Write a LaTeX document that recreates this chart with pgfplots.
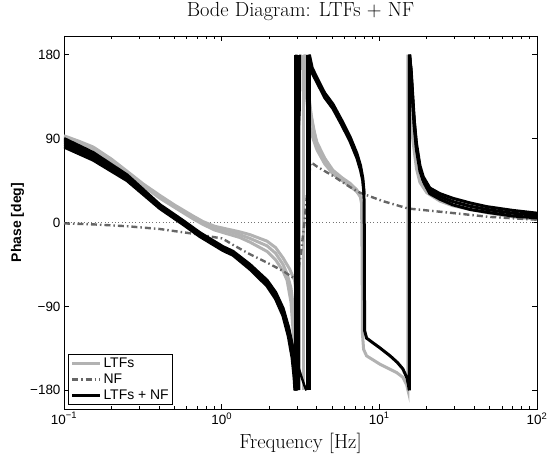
\documentclass[border=0pt]{standalone}
\usepackage{fontspec}
\setsansfont{Liberation Sans}
\usepackage{pgfplots}
\pgfplotsset{compat=1.18}
\definecolor{ltf}{gray}{0.70}
\definecolor{nfc}{gray}{0.40}
\definecolor{zl}{gray}{0.45}
\begin{document}
\begin{tikzpicture}
\useasboundingbox (-64bp,-49bp) rectangle (483bp,409bp);
\begin{axis}[
  at={(0,0)}, anchor=south west,
  scale only axis, width=473bp, height=373bp,
  xmode=log, xmin=0.1, xmax=100, ymin=-200, ymax=200,
  xtick={0.1,1,10,100},
  xticklabels={10\textsuperscript{−1},10\textsuperscript{0},10\textsuperscript{1},10\textsuperscript{2}},
  ytick={-180,-90,0,90,180},
  yticklabels={−180,−90,0,90,180},
  tick label style={font=\fontsize{13.5}{15}\selectfont\sffamily},
  axis line style={line width=0.9bp},
  every tick/.style={black, line width=0.7bp},
  major tick length=5bp, minor tick length=3bp,
  title={Bode Diagram: LTFs + NF},
  title style={at={(0.5,1.035)}, anchor=base, font=\fontsize{20.5}{23}\selectfont},
  xlabel={Frequency [Hz]},
  xlabel style={at={(axis description cs:0.5,-0.1046)}, anchor=base, font=\fontsize{20.5}{23}\selectfont},
  ylabel={Phase [deg]},
  ylabel style={at={(axis description cs:-0.098,0.5)}, anchor=center, font=\fontsize{14}{16}\selectfont\sffamily\bfseries},
  legend image code/.code={\draw[#1] plot coordinates {(0cm,0cm) (0.5cm,0cm) (1.0cm,0cm)};},
  legend cell align=left,
  legend style={at={(0.0085,0.0107)}, anchor=south west, draw=black, line width=0.9bp, fill=white,
    font=\fontsize{14}{16}\selectfont\sffamily, inner sep=2bp, row sep=2bp,
    nodes={inner sep=1.5bp}},
]
% zero reference
\addplot[forget plot, zl, line width=0.7bp, dash pattern=on 1bp off 2.4bp] coordinates {(0.1,0) (100,0)};

% ---------------- LTFs (gray) ----------------
\addplot[ltf, line width=3bp] coordinates {(0.1,92) (0.125,86) (0.153,80) (0.2,67) (0.251,53) (0.32,39) (0.406,27) (0.5,17) (0.658,5) (0.761,-1) (0.9,-6) (1.08,-9) (1.3,-13) (1.51,-17) (1.94,-25) (2.2,-33) (2.45,-45) (2.6,-55) (2.75,-70) (2.9,-100) (2.98,-150) (3.0,-180)};
\addplot[forget plot, ltf, line width=3bp] coordinates {(0.1,93) (0.125,87) (0.153,81) (0.2,68) (0.251,55) (0.32,41) (0.406,29) (0.5,19) (0.658,7) (0.761,1) (0.9,-4) (1.08,-7) (1.3,-10) (1.51,-13) (1.94,-20) (2.2,-27) (2.45,-38) (2.7,-50) (2.9,-62) (3.0,-80) (3.05,-120) (3.08,-180)};
\addplot[forget plot, ltf, line width=3bp] coordinates {(0.1,91) (0.153,79) (0.251,52) (0.406,26) (0.658,4) (0.761,-2) (0.9,-8) (1.08,-12) (1.3,-16) (1.51,-21) (1.94,-31) (2.2,-40) (2.45,-52) (2.6,-62) (2.75,-85) (2.85,-120) (2.92,-160) (2.95,-180)};
\addplot[forget plot, ltf, line width=3bp] coordinates {(3.1,-180) (3.1,180)};
\addplot[forget plot, ltf, line width=3bp] coordinates {(3.3,-180) (3.3,180)};
\addplot[forget plot, ltf, line width=3bp] coordinates {(3.4,180) (3.5,150) (3.63,122) (3.8,102) (4.02,86) (4.5,69) (5.08,56) (5.8,48) (6.52,42) (7.2,35) (7.55,29) (7.72,20) (7.78,-40) (7.82,-120) (7.95,-136) (8.3,-143) (10.1,-152) (12.9,-161) (14.1,-166) (14.9,-174) (15.2,-180) (15.2,180) (15.5,150) (15.9,110) (16.3,89) (17.2,58) (18.1,43) (20,32) (24.2,23) (29.2,18) (37.6,14) (50,10) (78,5) (100,4)};
\addplot[forget plot, ltf, line width=3bp] coordinates {(3.35,180) (3.45,135) (3.6,105) (3.8,90) (4.02,78) (4.5,63) (5.08,52) (5.8,45) (6.52,39) (7.2,33) (7.55,28)};
\addplot[forget plot, ltf, line width=3bp] coordinates {(3.38,180) (3.55,140) (3.7,115) (4.02,82) (5.08,54) (6.52,40)};

% ---------------- NF (dash-dot) ----------------
\addplot[nfc, line width=2.4bp, dash pattern=on 6bp off 3bp on 1.5bp off 3bp] coordinates {(0.1,-1) (0.153,-2) (0.251,-4) (0.406,-7) (0.658,-12) (1.0,-17) (1.08,-20) (1.18,-24) (1.51,-34) (1.94,-43) (2.45,-52) (2.83,-59) (2.95,-62) (3.05,-55) (3.2,-30) (3.35,0) (3.5,35) (3.67,64) (3.8,63) (4.02,60) (5.08,50) (6.52,38) (7.54,32) (10.5,23) (15.2,15) (28,10.5) (50,6) (100,3)};

% ---------------- LTFs + NF (black) ----------------
\addplot[black, line width=3.2bp] coordinates {(0.1,86) (0.153,71) (0.251,48) (0.406,17) (0.569,0) (0.728,-13) (1.02,-28) (1.18,-33) (1.51,-47) (1.94,-65) (2.2,-78) (2.45,-96) (2.65,-116) (2.83,-138) (2.9,-160) (2.95,-180)};
\addplot[forget plot, black, line width=3.2bp] coordinates {(0.1,90) (0.153,75) (0.251,51) (0.406,19) (0.569,2) (0.728,-11) (1.02,-26) (1.18,-31) (1.51,-45) (1.94,-62) (2.2,-75) (2.45,-92) (2.65,-112) (2.83,-135) (2.93,-160) (2.98,-180)};
\addplot[forget plot, black, line width=3.2bp] coordinates {(0.1,88) (0.153,73) (0.251,49.5) (0.406,18) (0.569,1) (0.728,-12) (1.02,-27) (1.18,-32) (1.51,-46) (1.94,-63.5) (2.2,-76.5) (2.45,-94) (2.65,-114) (2.83,-136.5) (2.92,-160) (2.96,-180)};
\addplot[forget plot, black, line width=3.2bp] coordinates {(0.1,83.5) (0.153,69) (0.251,46.5) (0.406,16) (0.569,-1) (0.728,-14) (1.02,-29) (1.18,-34) (1.51,-48.5) (1.94,-66.5) (2.2,-80) (2.45,-98) (2.65,-119) (2.82,-141) (2.89,-162) (2.93,-180)};
\addplot[forget plot, black, line width=3.2bp] coordinates {(0.1,81) (0.153,67) (0.251,45) (0.406,15) (0.569,-2) (0.728,-15) (1.02,-30) (1.18,-35) (1.51,-50) (1.94,-68) (2.2,-82) (2.45,-100) (2.65,-122) (2.8,-145) (2.88,-165) (2.92,-180)};
\addplot[forget plot, black, line width=2.4bp] coordinates {(2.83,-138) (3.0,-150) (3.2,-165) (3.35,-175) (3.45,-180)};
\addplot[forget plot, black, line width=3bp] coordinates {(2.93,-180) (2.93,180)};
\addplot[forget plot, black, line width=3bp] coordinates {(2.98,-180) (2.98,180)};
\addplot[forget plot, black, line width=3bp] coordinates {(3.05,-180) (3.05,180)};
\addplot[forget plot, black, line width=3bp] coordinates {(3.5,-180) (3.5,180)};
\addplot[forget plot, black, line width=3bp] coordinates {(3.6,-180) (3.6,180)};
\addplot[forget plot, black, line width=2.4bp] coordinates {(2.98,180) (3.03,125) (3.08,102) (3.12,120) (3.15,180)};
\addplot[forget plot, black, line width=3bp] coordinates {(3.6,180) (3.75,166) (4.0,156) (4.5,139) (5.08,127) (5.8,109) (6.52,92) (7.21,74) (7.6,61) (7.85,48) (7.98,35) (8.02,10) (8.04,-60) (8.07,-116) (8.3,-124) (9.1,-129) (10,-134) (11.7,-143) (13,-150) (14.1,-157) (15.0,-167) (15.3,-174) (15.5,-180) (15.5,180) (15.9,165) (16.3,135) (16.7,107) (17.2,85) (18.1,61) (19,49) (20.9,37) (24.2,31) (29.2,26) (37.6,21) (48.1,17) (70,13) (100,10)};
\addplot[forget plot, black, line width=3bp] coordinates {(3.55,180) (3.7,162) (4.0,151) (4.5,134) (5.08,122) (5.8,104) (6.52,87) (7.21,69) (7.6,56) (7.85,45) (8.0,30)};
\addplot[forget plot, black, line width=3bp] coordinates {(15.6,180) (16.0,150) (16.6,105) (17.2,78) (18.1,55) (19,44) (20.9,31) (24.2,25) (29.2,19) (37.6,14) (48.1,11) (70,7) (100,5)};
\addplot[forget plot, black, line width=3bp] coordinates {(15.55,180) (15.95,158) (16.45,120) (17.2,81) (18.1,58) (19,46.5) (20.9,34) (24.2,28) (29.2,22.5) (37.6,17.5) (48.1,14) (70,10) (100,7.5)};
\legend{LTFs,NF,LTFs + NF}
\end{axis}
\end{tikzpicture}
\end{document}
